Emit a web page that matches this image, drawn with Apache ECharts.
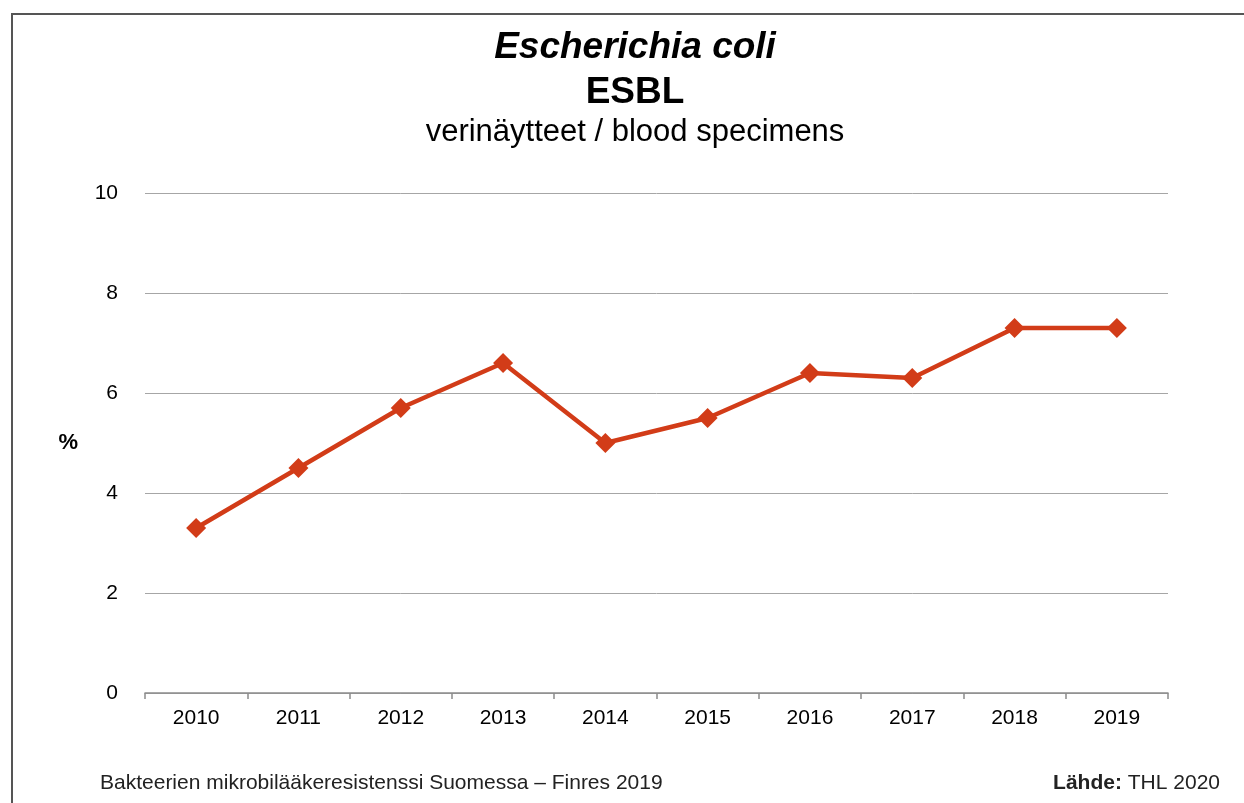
<!DOCTYPE html>
<html>
<head>
<meta charset="utf-8">
<script src="https://cdn.jsdelivr.net/npm/echarts@6/dist/echarts.min.js"></script>
<style>
  html, body { margin: 0; padding: 0; background: #fff; }
  #chart { width: 1244px; height: 803px; }
</style>
</head>
<body>
<div id="chart"></div>
<script>
// vuodet ja ESBL-osuus (%)
var years = ['2010', '2011', '2012', '2013', '2014', '2015', '2016', '2017', '2018', '2019'];
var esblPct = [3.3, 4.5, 5.7, 6.6, 5.0, 5.5, 6.4, 6.3, 7.3, 7.3];
var yTicks = [0, 2, 4, 6, 8, 10];

var font = 'Liberation Sans, Arial, sans-serif';
var chart = echarts.init(document.getElementById('chart'));

chart.setOption({
    backgroundColor: '#fff',
    animation: false,
    title: [
        {
            text: 'Escherichia coli',
            left: 630, top: 24, textAlign: 'center',
            textStyle: { fontFamily: font, fontSize: 37, fontStyle: 'italic', fontWeight: 'bold', color: '#000' }
        },
        {
            text: 'ESBL',
            left: 630, top: 69, textAlign: 'center',
            textStyle: { fontFamily: font, fontSize: 37, fontWeight: 'bold', color: '#000' }
        },
        {
            text: 'verinäytteet / blood specimens',
            left: 630, top: 112, textAlign: 'center',
            textStyle: { fontFamily: font, fontSize: 31, fontWeight: 'normal', color: '#000' }
        }
    ],
    grid: { left: 145, right: 76, top: 193, bottom: 110, containLabel: false },
    xAxis: {
        type: 'category',
        data: years,
        boundaryGap: true,
        axisLine: { lineStyle: { color: '#8c8c8c', width: 1.5 } },
        axisTick: { show: true, length: 6, lineStyle: { color: '#8c8c8c', width: 1.5 } },
        axisLabel: { fontFamily: font, fontSize: 21, color: '#000', margin: 15 }
    },
    yAxis: {
        type: 'value',
        min: yTicks[0],
        max: yTicks[yTicks.length - 1],
        interval: 2,
        name: '%',
        nameLocation: 'middle',
        nameRotate: 0,
        nameGap: 67,
        nameTextStyle: { fontFamily: font, fontSize: 22, fontWeight: 'bold', color: '#000', padding: [6, 0, 0, 0] },
        axisLine: { show: false },
        axisTick: { show: false },
        axisLabel: { fontFamily: font, fontSize: 21, color: '#000', margin: 27 },
        splitLine: { lineStyle: { color: '#a6a6a6', width: 1 } }
    },
    series: [{
        type: 'line',
        data: esblPct,
        symbol: 'diamond',
        symbolSize: 20,
        lineStyle: { color: '#d23c18', width: 4.5 },
        itemStyle: { color: '#d23c18' }
    }],
    graphic: [
        {
            type: 'polyline',
            shape: { points: [[12, 810], [12, 14], [1250, 14]] },
            style: { stroke: '#555', lineWidth: 2, fill: null }
        },
        {
            type: 'text',
            left: 100, top: 773,
            style: { text: 'Bakteerien mikrobilääkeresistenssi Suomessa – Finres 2019', font: '21px ' + font, fill: '#222' }
        },
        {
            type: 'text',
            right: 24, top: 773,
            style: {
                text: '{b|Lähde:} THL 2020',
                font: '21px ' + font, fill: '#222',
                rich: { b: { fontWeight: 'bold', fontSize: 21, fontFamily: font, fill: '#222' } }
            }
        }
    ]
});
</script>
</body>
</html>
